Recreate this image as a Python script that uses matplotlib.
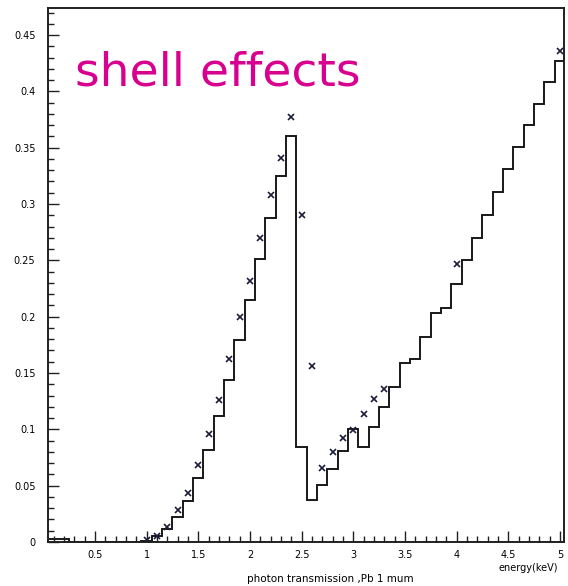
import numpy as np
from matplotlib import pyplot as plt
from matplotlib.ticker import MultipleLocator

# histogram bins (centres, keV) and contents
bin_centres = [0.1, 0.2, 0.3, 0.4, 0.5, 0.6, 0.7, 0.8, 0.9, 1.0,
               1.1, 1.2, 1.3, 1.4, 1.5, 1.6, 1.7, 1.8, 1.9, 2.0,
               2.1, 2.2, 2.3, 2.4, 2.5, 2.6, 2.7, 2.8, 2.9, 3.0,
               3.1, 3.2, 3.3, 3.4, 3.5, 3.6, 3.7, 3.8, 3.9, 4.0,
               4.1, 4.2, 4.3, 4.4, 4.5, 4.6, 4.7, 4.8, 4.9, 5.0]
bin_values = [0.003, 0.003, 0, 0, 0, 0, 0, 0, 0, 0.001,
              0.005, 0.0115, 0.0225, 0.0364, 0.0572, 0.082, 0.112, 0.144, 0.179, 0.215,
              0.251, 0.288, 0.325, 0.3605, 0.084, 0.0373, 0.0506, 0.0646, 0.081, 0.100,
              0.084, 0.102, 0.120, 0.138, 0.159, 0.162, 0.182, 0.203, 0.2075, 0.229,
              0.250, 0.270, 0.290, 0.311, 0.331, 0.351, 0.370, 0.389, 0.408, 0.427]

# measured points
point_energy = [1.0, 1.1, 1.2, 1.3, 1.4, 1.5, 1.6, 1.7, 1.8, 1.9,
                2.0, 2.1, 2.2, 2.3, 2.4, 2.5, 2.6, 2.7, 2.8, 2.9,
                3.0, 3.1, 3.2, 3.3, 4.0, 5.0]
point_values = [0.002, 0.005, 0.013, 0.0284, 0.0438, 0.068, 0.0956, 0.126, 0.162, 0.1996,
                0.232, 0.270, 0.308, 0.341, 0.377, 0.290, 0.156, 0.0654, 0.080, 0.092,
                0.099, 0.114, 0.127, 0.136, 0.247, 0.436]

x_ticks = [0.5, 1, 1.5, 2, 2.5, 3, 3.5, 4, 4.5, 5]
x_tick_labels = ['0.5', '1', '1.5', '2', '2.5', '3', '3.5', '4', '4.5', '5']
y_ticks = [0, 0.05, 0.1, 0.15, 0.2, 0.25, 0.3, 0.35, 0.4, 0.45]
y_tick_labels = ['0', '0.05', '0.1', '0.15', '0.2', '0.25', '0.3', '0.35', '0.4', '0.45']

BIN_WIDTH = 0.1


def plot_transmission():
   fig = plt.figure(figsize=(5.68, 5.86), dpi=100)
   ax = fig.add_axes([48 / 568, 44 / 586, 516 / 568, 534 / 586])

   centres = np.array(bin_centres)
   edges = np.append(centres - BIN_WIDTH / 2, centres[-1] + BIN_WIDTH / 2)
   ax.stairs(bin_values, edges, color='#181818', linewidth=1.4, baseline=None)
   ax.plot(point_energy, point_values, 'x', color='#1c1c3a', markersize=4.5,
           markeredgewidth=1.2)

   ax.set_xlim(0.045, 5.04)
   ax.set_ylim(0, 0.474)

   ax.set_xticks(x_ticks)
   ax.set_xticklabels(x_tick_labels)
   ax.set_yticks(y_ticks)
   ax.set_yticklabels(y_tick_labels)
   ax.xaxis.set_minor_locator(MultipleLocator(0.1))
   ax.yaxis.set_minor_locator(MultipleLocator(0.01))
   ax.tick_params(which='both', direction='in', top=False, right=False,
                  labelsize=7, width=1.0, color='#202020')
   ax.tick_params(which='major', length=8)
   ax.tick_params(axis='x', which='major', pad=6)
   ax.tick_params(axis='y', which='major', pad=9)
   ax.tick_params(which='minor', length=4)
   for spine in ax.spines.values():
      spine.set_linewidth(1.4)
      spine.set_color('#202020')

   fig.text(330 / 568, 1 - 579 / 586, 'photon transmission ,Pb 1 mum',
            ha='center', va='center', fontsize=7.5)
   fig.text(558 / 568, 1 - 568 / 586, 'energy(keV)',
            ha='right', va='center', fontsize=7)
   fig.text(75 / 568, 1 - 85 / 586, 'shell effects', color='#d8008e',
            fontsize=34, ha='left', va='baseline')

   fig.savefig('out.png', dpi=100)


def main():
   plot_transmission()


if __name__ == "__main__":
   main()
